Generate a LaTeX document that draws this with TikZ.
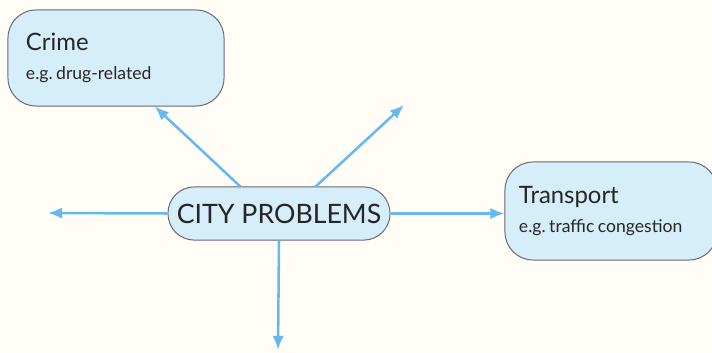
\documentclass[tikz,border=0pt]{standalone}
\usepackage{fontspec}
\setmainfont{Lato}
\usetikzlibrary{arrows.meta}
\definecolor{paper}{RGB}{255,253,246}
\definecolor{boxblue}{RGB}{214,237,250}
\definecolor{arrowblue}{RGB}{104,184,240}
\definecolor{edgegray}{RGB}{105,105,110}
\newcommand{\egsp}{e.g.\hspace{0.2em}}
\tikzset{
    topic/.style={draw=edgegray, line width=0.7pt, fill=boxblue, rounded corners=0.7cm,
        align=left, inner xsep=0.45cm, font=\fontsize{17}{20}\selectfont, text=black!85},
    arr/.style={arrowblue, line width=1.8pt, -{Latex[length=10pt,width=8pt]}}
}
\begin{document}
\begin{tikzpicture}[x=0.025cm, y=-0.025cm]

    % Background and page size
    \fill[paper] (0,0) rectangle (712,353);
    \useasboundingbox (0,0) rectangle (712,353);

    % The centre box
    \node[topic, minimum width=5.55cm, minimum height=1.33cm, rounded corners=0.66cm,
        align=center, inner xsep=0pt, font=\fontsize{19}{22}\selectfont] (city) at (279,213.5) {CITY PROBLEMS};

    % The two boxes round it
    \node[topic, minimum width=5.4cm, minimum height=2.4cm, text width=4.5cm] (crime) at (116,58)
        {Crime\\[1pt]{\fontsize{12.5}{14}\selectfont \egsp drug-related}};
    \node[topic, minimum width=5.3cm, minimum height=2.45cm, text width=4.6cm, inner xsep=0.35cm] (transport) at (611,211)
        {Transport\\[1pt]{\fontsize{12.5}{14}\selectfont \egsp traffic\hspace{0.2em}congestion}};

    % Free ends of the arrows
    \coordinate (upright) at (404,105);
    \coordinate (left) at (48,213);
    \coordinate (down) at (278,350);

    % The arrows
    \draw[arr] ([xshift=-0.97cm]city.north) -- ([xshift=0.97cm]crime.south);
    \draw[arr] ([xshift=0.92cm]city.north) -- (upright);
    \draw[arr] (city.west) -- (left);
    \draw[arr] (city.east) -- (transport.west |- city.east);
    \draw[arr] (city.south) -- (down);

\end{tikzpicture}
\end{document}
